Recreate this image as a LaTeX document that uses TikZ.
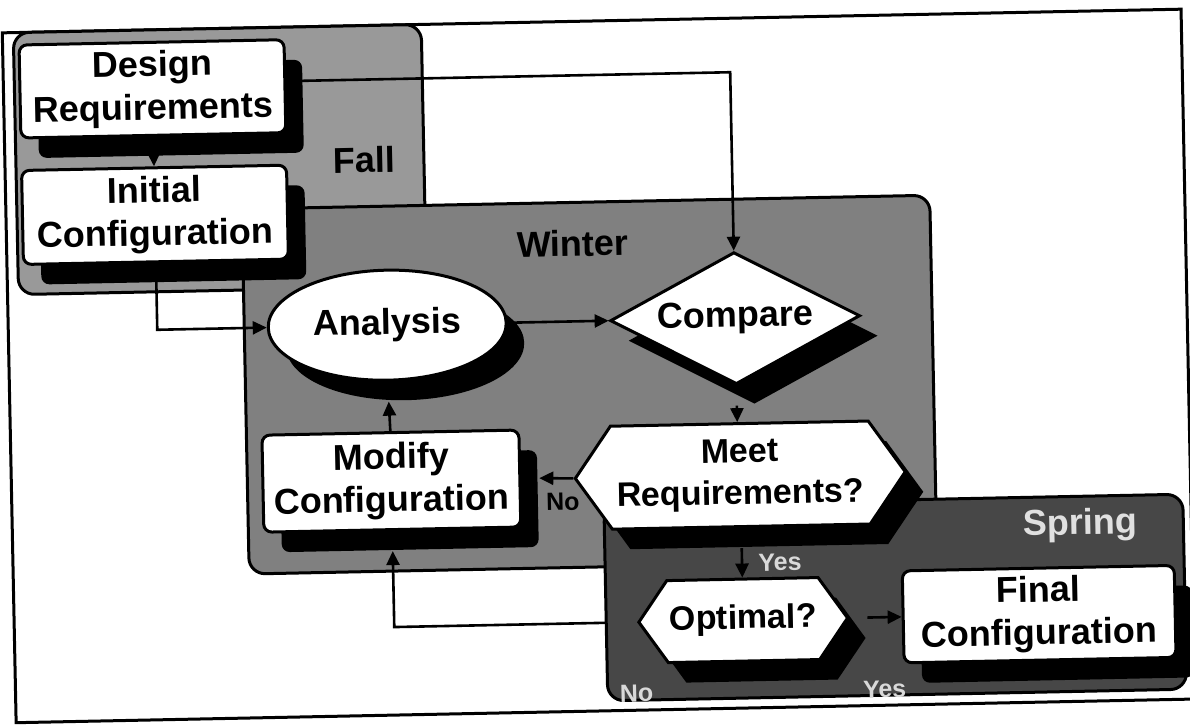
\documentclass[tikz,border=0pt]{standalone}
\usepackage{fontspec}
\setmainfont{Liberation Sans}
\usetikzlibrary{positioning,arrows.meta,shapes.geometric,shapes.symbols,shadows}
\pgfdeclarelayer{back}
\pgfdeclarelayer{mid}
\pgfdeclarelayer{spr}
\pgfsetlayers{back,mid,spr,main}

\begin{document}
\begin{tikzpicture}[x=1pt,y=-1pt,font=\fontsize{36}{43}\selectfont\bfseries,
  shade/.style={drop shadow={shadow xshift=18pt,shadow yshift=-20pt,opacity=1,fill=black}},
  box/.style={draw,line width=3pt,fill=white,rounded corners=8pt,align=center,inner sep=2pt,shade},
  hexa/.style={signal,signal to=east and west,signal from=nowhere,signal pointer angle=110,
    draw,line width=3pt,fill=white,align=center,inner sep=2pt,shade,
    font=\fontsize{34}{42}\selectfont\bfseries},
  region/.style={draw,line width=3pt,rounded corners=16pt},
  conn/.style={line width=2.6pt,-{Triangle[length=14pt,width=13pt]}},
  tag/.style={font=\fontsize{25}{30}\selectfont\bfseries}]
\begin{pgfonlayer}{back}
\fill[white] (0,0) rectangle (1190,724);
\end{pgfonlayer}
\useasboundingbox (0,0) rectangle (1190,724);
\begin{scope}[rotate around={1.15:(595,362)},transform shape]
% seasons
\begin{pgfonlayer}{back}
\draw[line width=3pt] (9,21) rectangle (1188,711);
\draw[region,fill=black!40] (20,21) rectangle (428,283);
\draw[region,fill=black!50] (245,202) rectangle (933,567);
\end{pgfonlayer}
\begin{pgfonlayer}{spr}
\draw[region,fill=black!72] (601,506) rectangle (1180,701);
\node[text=black!12] (spring) at (1077,535) {Spring};
\node[tag,text=black!15] (yes1) at (776,566) {Yes};
\node[tag,text=black!15] (no2) at (630,694) {No};
\node[tag,text=black!15] (yes2) at (878,695) {Yes};
\end{pgfonlayer}
\node (fall) at (368,155) {Fall};
\node (winter) at (575,243) {Winter};
% steps
\node[box,minimum width=265pt,minimum height=93pt] (des) at (158,80) {Design\\Requirements};
\node[box,minimum width=265pt,minimum height=94pt] (ini) at (158,206) {Initial\\Configuration};
\node[ellipse,draw,line width=3pt,fill=white,shade,minimum width=238pt,minimum height=110pt] (ana) at (388,321) {Analysis};
\node[diamond,aspect=1.9,draw,line width=3pt,fill=white,shade,inner sep=2pt,minimum width=250pt,minimum height=132pt] (cmp) at (736,321) {Compare};
\node[hexa,minimum width=330pt,minimum height=103pt] (meet) at (738,478) {Meet\\Requirements?};
\node[box,minimum width=257pt,minimum height=97pt] (mod) at (389,477) {Modify\\Configuration};
\node[hexa,minimum width=200pt,minimum height=82pt] (opt) at (738,623) {Optimal?};
\node[box,minimum width=272pt,minimum height=92pt] (fin) at (1034,623) {Final\\Configuration};
\node[tag] (no1) at (560,501) {No};
% flow
\begin{pgfonlayer}{mid}
\draw[conn] ([yshift=5pt]des.east) -| (cmp.north);
\draw[conn] (ini.south) |- (ana.west);
\draw[conn] (ana.east) -- (cmp.west);
\draw[conn] (meet.west) -- ([xshift=18pt]mod.east);
\draw[conn] (opt.west) -| ([yshift=-20pt]mod.south);
\end{pgfonlayer}
\draw[conn] ([yshift=-20pt]des.south) -- (ini.north);
\draw[conn] ([yshift=-20pt]cmp.south) -- (cmp.south |- meet.north);
\draw[conn] (mod.north) -- ([yshift=-20pt]ana.south);
\draw[conn] ([yshift=-20pt]meet.south) -- (opt.north);
\draw[conn] ([xshift=18pt]opt.east) -- (fin.west);
\end{scope}
\end{tikzpicture}
\end{document}
